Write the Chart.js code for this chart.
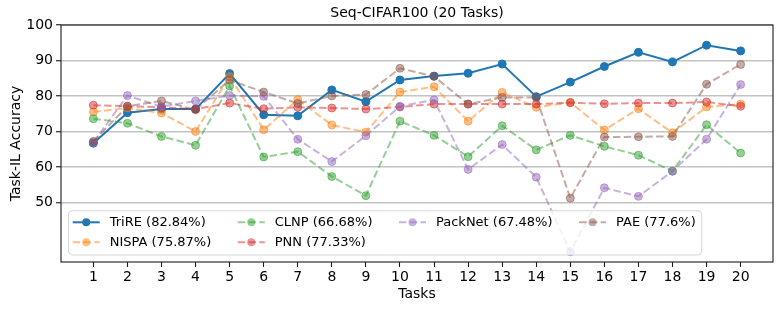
<!DOCTYPE html>
<html>
<head>
<meta charset="utf-8">
<script src="https://cdn.jsdelivr.net/npm/chart.js@4/dist/chart.umd.min.js"></script>
<style>
  html, body { margin: 0; padding: 0; background: #fff; }
  #wrap { width: 781px; height: 310px; }
</style>
</head>
<body>
<div id="wrap"><canvas id="chart"></canvas></div>
<script>
// Seq-CIFAR100 (20 Tasks): точность Task-IL по задачам.
const tasks = [1, 2, 3, 4, 5, 6, 7, 8, 9, 10, 11, 12, 13, 14, 15, 16, 17, 18, 19, 20];
const yTicks = [50, 60, 70, 80, 90, 100];

const trire   = [66.7, 75.3, 76.3, 76.3, 86.3, 74.7, 74.4, 81.7, 78.4, 84.5, 85.6, 86.4, 89.0, 79.8, 83.9, 88.3, 92.3, 89.6, 94.3, 92.7];
const nispa   = [75.5, 76.6, 75.2, 70.0, 85.5, 70.5, 79.0, 71.8, 69.8, 81.1, 82.6, 72.9, 81.0, 76.8, 78.2, 70.4, 76.4, 69.6, 76.9, 77.7];
const clnp    = [73.6, 72.3, 68.6, 66.1, 82.8, 62.8, 64.3, 57.3, 51.9, 72.9, 68.9, 62.9, 71.6, 64.8, 68.9, 65.8, 63.3, 58.8, 71.9, 63.9];
const pnn     = [77.4, 77.1, 76.8, 76.3, 78.0, 76.4, 76.8, 76.6, 76.3, 76.9, 77.7, 77.7, 77.7, 77.7, 78.1, 77.8, 78.0, 78.0, 78.3, 77.1];
const packnet = [66.9, 80.1, 77.0, 78.6, 80.1, 79.9, 67.8, 61.5, 68.8, 77.1, 78.9, 59.3, 66.3, 57.1, 36.1, 54.1, 51.7, 58.8, 67.8, 83.2];
const pae     = [67.2, 77.1, 78.6, 76.1, 84.5, 81.1, 77.9, 80.0, 80.4, 87.8, 85.5, 77.7, 79.6, 79.6, 51.2, 68.4, 68.5, 68.6, 83.3, 88.9];

const names = ["TriRE (82.84%)", "NISPA (75.87%)", "CLNP (66.68%)", "PNN (77.33%)", "PackNet (67.48%)", "PAE (77.6%)"];
const series = [trire, nispa, clnp, pnn, packnet, pae];
const colors = ["31,119,180", "255,127,14", "44,160,44", "214,39,40", "148,103,189", "140,86,75"];

const TITLE = "Seq-CIFAR100 (20 Tasks)";
const FONT = "DejaVu Sans";
const DASH = [7.5, 3.3];

const datasets = series.map((vals, i) => {
  const a = i === 0 ? 1 : 0.5;
  const c = `rgba(${colors[i]},${a})`;
  return {
    label: names[i],
    data: vals.map((v, k) => ({ x: tasks[k], y: v })),
    borderColor: c,
    backgroundColor: c,
    pointBackgroundColor: c,
    pointBorderColor: c,
    borderWidth: 2,
    borderDash: i === 0 ? [] : DASH,
    pointRadius: 4,
    pointBorderWidth: 1,
    pointHoverRadius: 4,
    tension: 0,
    order: series.length - i, // как в matplotlib: последние поверх
  };
});

// Раскладка легенды как ncol=4 в matplotlib: по столбцам, первые столбцы длиннее.
function legendColumns(n, ncol) {
  const nrows = Math.ceil(n / ncol);
  const large = n % ncol || ncol;
  const out = [];
  let k = 0;
  for (let c = 0; c < ncol && k < n; c++) {
    const h = c < large ? nrows : nrows - 1;
    const col = [];
    for (let r = 0; r < h && k < n; r++) col.push(k++);
    out.push(col);
  }
  return out;
}

// Заголовок по центру осей, легенда и рамка осей.
const decor = {
  id: "decor",
  afterDraw(chart) {
    const { ctx, chartArea: a } = chart;
    const ds = chart.data.datasets;
    ctx.save();
    ctx.fillStyle = "#000";
    ctx.font = `14px "${FONT}"`;
    ctx.textAlign = "center";
    ctx.textBaseline = "middle";
    ctx.fillText(TITLE, (a.left + a.right) / 2, 13.5);

    ctx.font = `13px "${FONT}"`;
    const handle = 27, gap = 10, colGap = 26.5;
    const cols = legendColumns(ds.length, 4);
    const colW = cols.map((col) => Math.max(...col.map((i) => ctx.measureText(ds[i].label).width)));
    const left = a.left + 7.5, bottom = a.bottom - 7, h = 44.3, top = bottom - h;
    let width = 4.2 + 6;
    colW.forEach((w, c) => { width += handle + gap + w + (c < cols.length - 1 ? colGap : 0); });
    ctx.beginPath();
    ctx.roundRect(left, top, width, h, 4);
    ctx.fillStyle = "rgba(255,255,255,0.8)";
    ctx.fill();
    ctx.strokeStyle = "rgba(204,204,204,0.8)";
    ctx.lineWidth = 1;
    ctx.stroke();
    let x = left + 4.2;
    cols.forEach((col, c) => {
      col.forEach((i, r) => {
        const d = ds[i];
        const y = top + 11.6 + r * 20;
        ctx.setLineDash(d.borderDash);
        ctx.strokeStyle = d.borderColor;
        ctx.lineWidth = d.borderWidth;
        ctx.beginPath(); ctx.moveTo(x, y); ctx.lineTo(x + handle, y); ctx.stroke();
        ctx.setLineDash([]);
        ctx.beginPath(); ctx.arc(x + handle / 2, y, 4, 0, Math.PI * 2);
        ctx.fillStyle = d.pointBackgroundColor; ctx.fill();
        ctx.fillStyle = "#000";
        ctx.textAlign = "left";
        ctx.fillText(d.label, x + handle + gap, y + 0.5);
      });
      x += handle + gap + colW[c] + colGap;
    });

    ctx.strokeStyle = "#1a1a1a";
    ctx.lineWidth = 1.1;
    ctx.strokeRect(a.left, a.top, a.right - a.left, a.bottom - a.top);
    ctx.restore();
  },
};

new Chart(document.getElementById("chart"), {
  type: "line",
  data: { datasets },
  options: {
    responsive: true,
    maintainAspectRatio: false,
    animation: false,
    events: [],
    layout: { padding: { left: 0, right: 8, top: 25, bottom: 0 } },
    plugins: {
      legend: { display: false },
      tooltip: { enabled: false },
      title: { display: false },
    },
    scales: {
      x: {
        type: "linear",
        min: 0.05,
        max: 20.95,
        afterBuildTicks: (s) => { s.ticks = tasks.map((v) => ({ value: v })); },
        afterFit: (s) => { s.height = 48; },
        border: { display: false },
        grid: { drawOnChartArea: false, drawTicks: true, tickLength: 5, tickColor: "#1a1a1a", tickWidth: 1.1 },
        ticks: { color: "#000", font: { family: FONT, size: 14 }, padding: 2, autoSkip: false, maxRotation: 0, callback: (v) => String(v) },
        title: { display: true, text: "Tasks", color: "#000", font: { family: FONT, size: 14 }, padding: { top: 0, bottom: 7.6 } },
      },
      y: {
        min: 33.2,
        max: 100,
        afterBuildTicks: (s) => { s.ticks = yTicks.map((v) => ({ value: v })); },
        afterFit: (s) => { s.width = 61; },
        border: { display: false },
        grid: { color: "#c4c4c4", lineWidth: 1.5, tickLength: 5, tickColor: "#1a1a1a", tickWidth: 1.1 },
        ticks: { color: "#000", font: { family: FONT, size: 14 }, padding: 3, callback: (v) => String(v) },
        title: { display: true, text: "Task-IL Accuracy", color: "#000", font: { family: FONT, size: 14 }, padding: { top: 7.6, bottom: 0 } },
      },
    },
  },
  plugins: [decor],
});
</script>
</body>
</html>
